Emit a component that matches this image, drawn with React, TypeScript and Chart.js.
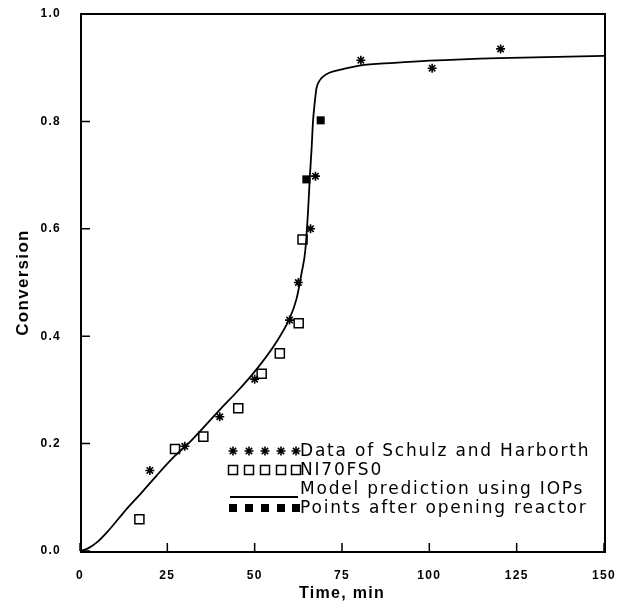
import React, { useEffect, useRef } from 'react';
import { Chart, registerables } from 'chart.js';

Chart.register(...registerables);

// ---- data ----
const xTickValues = [0, 25, 50, 75, 100, 125, 150];
const yTickValues = [0, 0.2, 0.4, 0.6, 0.8, 1.0];

const schulzTime = [20, 30, 40, 50, 60, 62.5, 66, 67.4, 80.4, 100.8, 120.4];
const schulzConv = [0.15, 0.195, 0.25, 0.32, 0.43, 0.5, 0.6, 0.698, 0.914, 0.899, 0.935];

const niTime = [17, 27.2, 35.3, 45.3, 52, 57.2, 62.6, 63.7];
const niConv = [0.059, 0.19, 0.213, 0.266, 0.33, 0.368, 0.424, 0.58];

const openedTime = [64.8, 68.9];
const openedConv = [0.692, 0.802];

const modelTime = [0, 2, 5, 8, 11, 14, 17.4, 22, 27, 31, 40, 45, 50, 56, 60, 62, 63.5, 64.5, 65.3, 65.8, 66.3, 66.7, 67.2, 67.7, 68.5, 69.5, 71.5, 75, 80, 90, 100, 120, 150];
const modelConv = [0, 0.004, 0.017, 0.037, 0.06, 0.083, 0.107, 0.141, 0.176, 0.2, 0.263, 0.297, 0.334, 0.387, 0.433, 0.47, 0.52, 0.56, 0.635, 0.697, 0.75, 0.8, 0.835, 0.862, 0.875, 0.883, 0.891, 0.897, 0.904, 0.909, 0.913, 0.918, 0.922];

const legendLabels = [
  'Data of Schulz and Harborth',
  'NI70FS0',
  'Model prediction using IOPs',
  'Points after opening reactor',
];

const xTitle = 'Time, min';
const yTitle = 'Conversion';

const toPoints = (xs: number[], ys: number[]) => xs.map((x, i) => ({ x, y: ys[i] }));

const W = 621;
const H = 606;

function drawMarker(ctx: CanvasRenderingContext2D, kind: string, x: number, y: number) {
  ctx.save();
  ctx.strokeStyle = '#000';
  ctx.fillStyle = '#000';
  if (kind === 'star') {
    const r = 4.5;
    ctx.lineWidth = 1.6;
    ctx.beginPath();
    for (const a of [0, 45, 90, 135]) {
      const rad = (a * Math.PI) / 180;
      ctx.moveTo(x - Math.cos(rad) * r, y - Math.sin(rad) * r);
      ctx.lineTo(x + Math.cos(rad) * r, y + Math.sin(rad) * r);
    }
    ctx.stroke();
  } else if (kind === 'open') {
    ctx.lineWidth = 1.5;
    ctx.strokeRect(x - 4.5, y - 4.5, 9, 9);
  } else if (kind === 'filled') {
    ctx.fillRect(x - 4, y - 4, 8, 8);
  }
  ctx.restore();
}

const decorPlugin = {
  id: 'decor',
  beforeDraw(chart: any) {
    chart.ctx.letterSpacing = '1.3px';
  },
  beforeDatasetsDraw(chart: any) {
    const { ctx, chartArea: a, scales } = chart;
    ctx.save();
    ctx.strokeStyle = '#000';
    ctx.lineWidth = 2;
    ctx.beginPath();
    ctx.moveTo(a.left + 1, a.top);
    ctx.lineTo(a.left + 1, a.bottom + 1);
    ctx.lineTo(a.right + 1, a.bottom + 1);
    ctx.lineTo(a.right + 1, a.top);
    ctx.closePath();
    ctx.stroke();
    ctx.lineWidth = 1.5;
    ctx.beginPath();
    for (const v of xTickValues) {
      const px = scales.x.getPixelForValue(v);
      ctx.moveTo(px, a.bottom);
      ctx.lineTo(px, a.bottom - 8);
    }
    for (const v of yTickValues) {
      const py = scales.y.getPixelForValue(v);
      ctx.moveTo(a.left, py);
      ctx.lineTo(a.left + 10, py);
    }
    ctx.stroke();
    ctx.restore();
  },
  afterDraw(chart: any) {
    const { ctx } = chart;
    const kinds = ['star', 'open', 'line', 'filled'];
    const rowY = [451, 470, 489, 508];
    const markX = [233, 249, 265, 281, 296];
    ctx.save();
    ctx.letterSpacing = '1.8px';
    ctx.font = '17px "DejaVu Sans", sans-serif';
    ctx.fillStyle = '#000';
    ctx.textAlign = 'left';
    ctx.textBaseline = 'middle';
    legendLabels.forEach((label, i) => {
      const y = rowY[i];
      if (kinds[i] === 'line') {
        ctx.save();
        ctx.strokeStyle = '#000';
        ctx.lineWidth = 1.8;
        ctx.beginPath();
        ctx.moveTo(230, y + 8);
        ctx.lineTo(298, y + 8);
        ctx.stroke();
        ctx.restore();
      } else {
        markX.forEach((mx) => drawMarker(ctx, kinds[i], mx, y));
      }
      ctx.fillText(label, 300, y + 1);
    });
    ctx.restore();
    ctx.letterSpacing = '0px';
  },
};

export default function App() {
  const ref = useRef<HTMLCanvasElement | null>(null);

  useEffect(() => {
    if (!ref.current) return;
    const tickFont = { family: '"Liberation Sans", Arial, sans-serif', size: 12, weight: 'bold' as const };
    const chart = new Chart(ref.current, {
      type: 'scatter',
      data: {
        datasets: [
          {
            label: legendLabels[0],
            data: toPoints(schulzTime, schulzConv),
            pointStyle: 'star',
            pointRadius: 4.5,
            pointBorderWidth: 1.6,
            borderColor: '#000',
            backgroundColor: '#000',
            showLine: false,
            order: 1,
          },
          {
            label: legendLabels[1],
            data: toPoints(niTime, niConv),
            pointStyle: 'rect',
            pointRadius: 6.4,
            pointBorderWidth: 1.5,
            borderColor: '#000',
            backgroundColor: 'rgba(255,255,255,0)',
            showLine: false,
            order: 2,
          },
          {
            label: legendLabels[2],
            data: toPoints(modelTime, modelConv),
            showLine: true,
            pointRadius: 0,
            borderColor: '#000',
            borderWidth: 1.8,
            cubicInterpolationMode: 'monotone',
            fill: false,
            order: 4,
          },
          {
            label: legendLabels[3],
            data: toPoints(openedTime, openedConv),
            pointStyle: 'rect',
            pointRadius: 5.7,
            pointBorderWidth: 0,
            borderColor: '#000',
            backgroundColor: '#000',
            showLine: false,
            order: 0,
          },
        ],
      },
      options: {
        animation: false,
        responsive: false,
        devicePixelRatio: 1,
        layout: { padding: { left: 0, right: 17, top: 14, bottom: 0 } },
        plugins: { legend: { display: false }, tooltip: { enabled: false } },
        scales: {
          x: {
            type: 'linear',
            min: 0,
            max: 150,
            afterFit: (s: any) => {
              s.height = 55;
              s.paddingLeft = 0;
              s.paddingRight = 0;
              s.paddingTop = 0;
              s.paddingBottom = 0;
            },
            afterBuildTicks: (s: any) => {
              s.ticks = xTickValues.map((v) => ({ value: v }));
            },
            grid: { display: false, drawTicks: false },
            border: { display: false },
            ticks: {
              padding: 17,
              color: '#000',
              font: tickFont,
              maxRotation: 0,
              callback: (v: any) => String(v),
            },
            title: {
              display: true,
              text: xTitle,
              color: '#000',
              font: { family: '"Liberation Sans", Arial, sans-serif', size: 16, weight: 'bold' },
              padding: { top: 0, bottom: 2.4 },
            },
          },
          y: {
            type: 'linear',
            min: 0,
            max: 1,
            afterFit: (s: any) => {
              s.width = 80;
              s.paddingLeft = 0;
              s.paddingRight = 0;
              s.paddingTop = 0;
              s.paddingBottom = 0;
            },
            afterBuildTicks: (s: any) => {
              s.ticks = yTickValues.map((v) => ({ value: v }));
            },
            grid: { display: false, drawTicks: false },
            border: { display: false },
            ticks: {
              padding: 19,
              color: '#000',
              font: tickFont,
              callback: (v: any) => Number(v).toFixed(1),
            },
            title: {
              display: true,
              text: yTitle,
              color: '#000',
              font: { family: '"Liberation Sans", Arial, sans-serif', size: 17, weight: 'bold' },
              padding: { top: 13, bottom: 0 },
            },
          },
        },
      },
      plugins: [decorPlugin],
    });
    return () => chart.destroy();
  }, []);

  return (
    <div style={{ position: 'absolute', left: 0, top: 0, width: W, height: H, background: '#fff' }}>
      <canvas ref={ref} width={W} height={H} style={{ width: W, height: H, display: 'block' }} />
    </div>
  );
}
